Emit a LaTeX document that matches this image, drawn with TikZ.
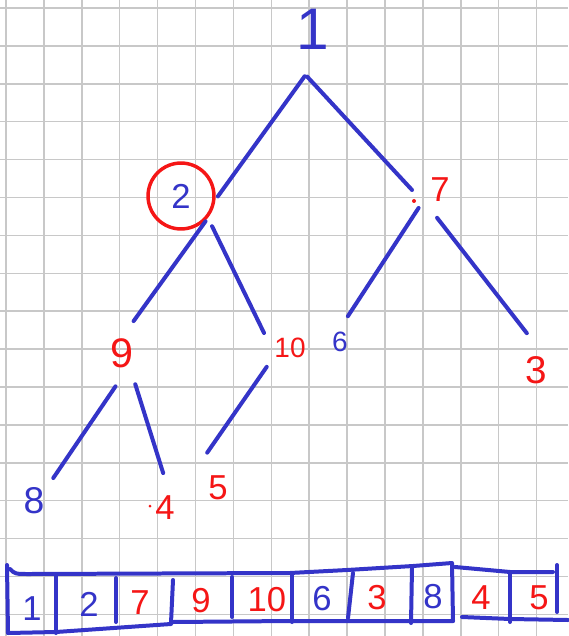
\documentclass[tikz,border=0pt]{standalone}
\usepackage{fontspec}
\setmainfont{Liberation Sans}
\definecolor{inkblue}{RGB}{52,52,200}
\definecolor{inkred}{RGB}{245,22,22}
\definecolor{paper}{RGB}{200,200,200}

\begin{document}
\begin{tikzpicture}[x=0.7507pt, y=-0.7507pt,
  num/.style={circle, inner sep=0pt, outer sep=0pt, font=\fontsize{26}{26}\selectfont},
  edge/.style={draw=inkblue, line width=3pt, line cap=round},
  cell/.style={draw=inkblue, line width=3pt, line cap=round, line join=round},
  gridline/.style={draw=paper, line width=1.1pt}]
\fill[white] (0,0) rectangle (568,636);
\useasboundingbox (0,0) rectangle (568,636);
% squared paper
\foreach \i in {0,...,14} \draw[gridline] ({6+37.9*\i},0) -- ({6+37.9*\i},636);
\foreach \j in {0,...,16} \draw[gridline] (0,{8+37.9*\j}) -- (568,{8+37.9*\j});

% tree
\node (1) [num, text=inkblue, minimum size=72pt, font=\fontsize{44}{44}\selectfont] at (313,29) {1};
\node (2) [circle, draw=inkred, line width=2.6pt, text=inkblue, minimum size=49.5pt, inner sep=0pt, font=\fontsize{26}{26}\selectfont] at (181,196) {2};
\node (7) [num, text=inkred, minimum size=42pt] at (440,190) {7};
\node (9) [num, text=inkred, minimum size=51pt, font=\fontsize{31}{31}\selectfont] at (122,353) {9};
\node (10) [num, text=inkred, minimum size=45pt, font=\fontsize{21}{21}\selectfont] at (290,348) {10};
\node (6) [num, text=inkblue, minimum size=40.5pt, font=\fontsize{21}{21}\selectfont] at (340,342) {6};
\node (3) [num, text=inkred, minimum size=57pt, font=\fontsize{29}{29}\selectfont] at (536,370) {3};
\node (8) [num, text=inkblue, minimum size=45pt, font=\fontsize{28}{28}\selectfont] at (34,501) {8};
\node (4) [num, text=inkred, minimum size=52.5pt] at (165,508) {4};
\node (5) [num, text=inkred, minimum size=55.5pt] at (218,488) {5};
\fill[inkred] (414,201) circle (2);
\fill[inkred] (150,506) circle (1.5);

\draw[edge, shorten >=3pt] (1.260) -- (2.354);
\draw[edge] (1.263) -- (7.180);
\draw[edge, shorten <=5pt] (2.325) -- (9.70);
\draw[edge, shorten <=7pt] (2.321) -- (10.150);
\draw[edge] (7.220) -- (6.73);
\draw[edge] (7.264) -- (3.104);
\draw[edge] (9.259) -- (8.50);
\draw[edge] (9.293) -- (4.93);
\draw[edge] (10.219) -- (5.107);

% array
\draw[cell] (7,565) -- (8,633);
\draw[cell] (10,569) .. controls (15,574) .. (30,574) -- (290,573) -- (347,570) -- (413,566) -- (452,563) -- (453,621);
\draw[cell] (8,633) -- (56,632) -- (171,624);
\draw[cell] (173,622) -- (290,621) -- (453,621);
\draw[cell] (455,567) -- (510,572) -- (553,572);
\draw[cell] (557,565) -- (557,612);
\draw[cell] (462,617) -- (510,619) -- (568,620);
\foreach \xa/\ya/\xb/\yb in {56/574/56/633, 116/578/116/622, 173/580/171/623, 232/577/232/617,
    292/573/292/622, 353/573/348/618, 412/568/411/623, 510/573/510/622}
  \draw[cell] (\xa,\ya) -- (\xb,\yb);
\foreach \v/\x/\y/\c in {1/32/609/inkblue, 2/89/604/inkblue, 7/140/603/inkred, 9/201/601/inkred,
    10/267/600/inkred, 6/322/599/inkblue, 3/377/598/inkred, 8/433/597/inkblue, 4/481/598/inkred, 5/539/598/inkred}
  \node (a\v) [num, text=\c] at (\x,\y) {\v};
\end{tikzpicture}
\end{document}
